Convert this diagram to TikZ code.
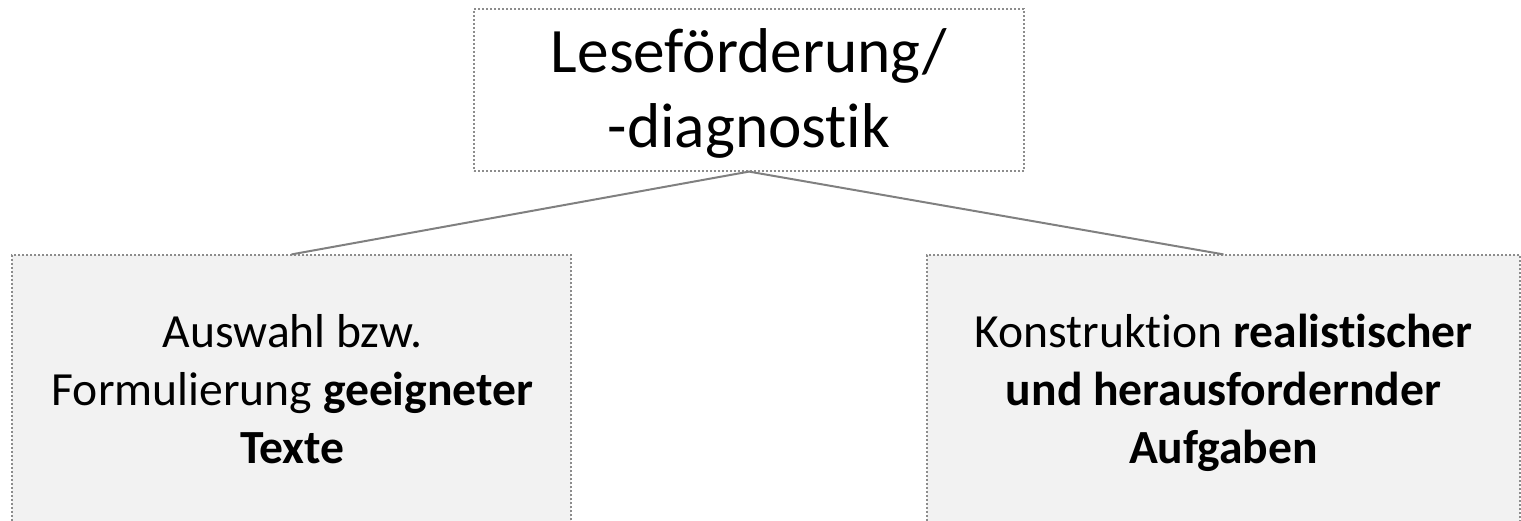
\documentclass[tikz,border=0pt]{standalone}
\usepackage{fontspec}
\setmainfont{Carlito}[Ligatures=NoCommon]
\definecolor{boxfill}{HTML}{F2F2F2}
\definecolor{dotgray}{HTML}{8C8C8C}
\definecolor{linegray}{HTML}{808080}
\begin{document}
\begin{tikzpicture}[x=1pt,y=-1pt,
  dotbox/.style={draw=dotgray, line width=1.2pt, dash pattern=on 1.8pt off 2.2pt, inner sep=0pt},
  topbox/.style={dotbox, fill=white, minimum width=550pt, minimum height=162pt},
  lowbox/.style={dotbox, fill=boxfill, minimum height=346pt},
  toptext/.style={inner sep=0pt, align=center, anchor=base, font=\fontsize{63.3}{75}\selectfont},
  lowtext/.style={inner sep=0pt, align=center, anchor=base, font=\fontsize{47.6}{58}\selectfont},
  conn/.style={draw=linegray, line width=2pt}]
\useasboundingbox (0,0) rectangle (1521,520);
\node[topbox] (top) at (749,90) {};
\node[lowbox, minimum width=559pt] (left) at (291.5,428) {};
\node[lowbox, minimum width=593pt] (right) at (1223.5,428) {};
\node[toptext] (toptxt) at (749,147) {Leseförderung/\\-diagnostik};
\node[lowtext] (lefttxt) at (292.5,463) {Auswahl bzw.\\Formulierung \textbf{geeigneter}\\\textbf{Texte}};
\node[lowtext] (righttxt) at (1223.5,463) {Konstruktion \textbf{realistischer}\\\textbf{und herausfordernder}\\\textbf{Aufgaben}};
\draw[conn] (top.south) -- (left.north);
\draw[conn] (top.south) -- (right.north);
\end{tikzpicture}
\end{document}
